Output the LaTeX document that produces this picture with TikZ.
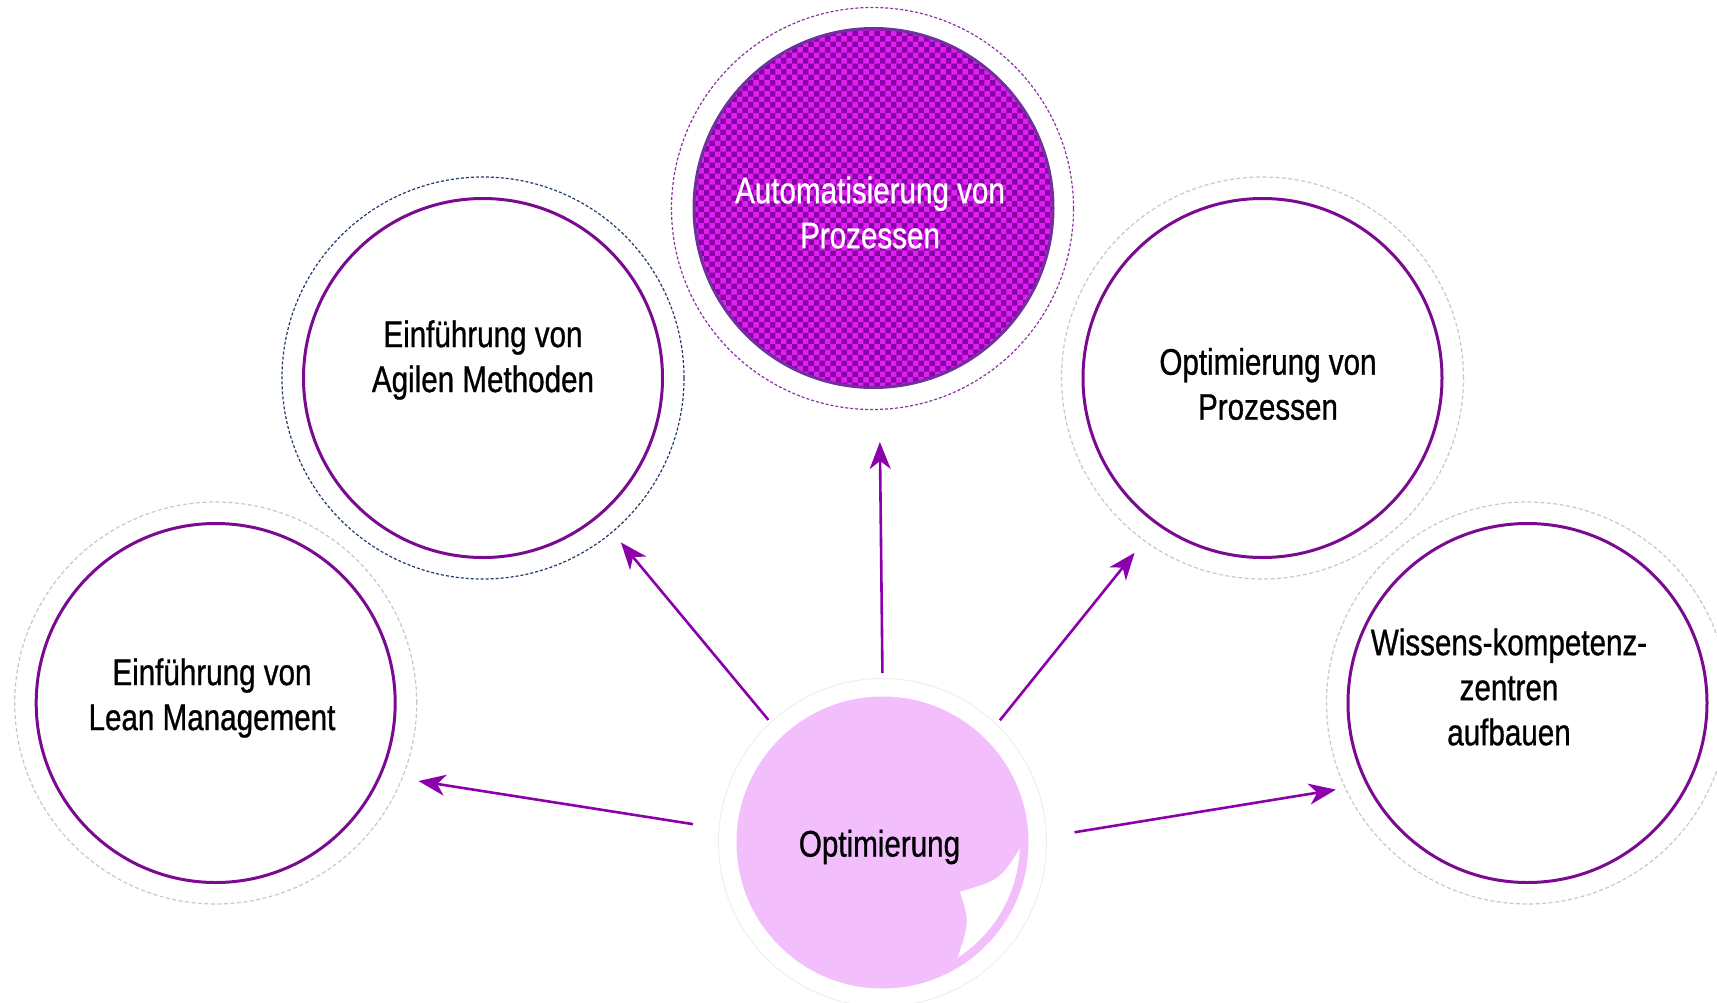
\documentclass[tikz,border=0pt]{standalone}
\usepackage{fontspec}
\setmainfont[FakeStretch=0.8,FakeBold=0.8]{Liberation Sans}
\usetikzlibrary{arrows.meta,patterns}
\definecolor{circ}{HTML}{7A0B90}
\definecolor{arr}{HTML}{8B00AB}
\definecolor{ringgray}{HTML}{C8C8C8}
\definecolor{ringnavy}{HTML}{1F3A6B}
\definecolor{ringpurple}{HTML}{9030A8}
\definecolor{pinkfill}{HTML}{F3BEFC}
\definecolor{autodark}{HTML}{8A00A8}
\definecolor{autolight}{HTML}{E020F0}
\definecolor{autoborder}{HTML}{7030A0}
\definecolor{faintring}{HTML}{EEEEEE}
\begin{document}
\begin{tikzpicture}[x=1pt,y=-1pt,
  mainc/.style={circle, draw=circ, line width=3pt, minimum size=359pt, inner sep=0pt},
  ringc/.style={circle, draw=ringgray, line width=1.2pt, minimum size=402pt, inner sep=0pt, dash pattern=on 4pt off 2.5pt},
  lbl/.style={font=\fontsize{37}{45}\selectfont, align=center, inner sep=0pt},
  conn/.style={draw=arr, line width=2.6pt, -{Stealth[length=27pt,width=21pt,inset=8pt]}}]
\useasboundingbox (0,0) rectangle (1717,1002);

% outer rings
\node[ringc] (leanR) at (215.7,703) {};
\node[ringc, draw=ringnavy, dash pattern=on 3pt off 2pt] (agileR) at (483,378) {};
\node[ringc, draw=ringpurple, dash pattern=on 3pt off 2pt] (autoR) at (872.5,208.5) {};
\node[ringc] (optR) at (1262.5,378) {};
\node[ringc] (wisR) at (1527.5,703) {};
\node[circle, draw=faintring, line width=1pt, minimum size=328pt, inner sep=0pt] (cR) at (882.5,842.5) {};

% main circles
\node[mainc] (lean) at (215.7,703) {};
\node[mainc] (agile) at (483,378) {};
\node[circle, minimum size=359pt, inner sep=0pt, draw=autoborder, line width=3pt,
      preaction={fill=autodark}, pattern=checkerboard, pattern color=autolight] (auto) at (873.5,208) {};
\node[mainc] (opt) at (1262.5,378) {};
\node[mainc] (wis) at (1527.5,703) {};
\node[circle, minimum size=292pt, inner sep=0pt, fill=pinkfill] (c) at (882.5,842.5) {};

% page curl
\begin{scope}
  \clip (882.5,842.5) circle (137.5);
  \fill[white] (1021,846.7) .. controls (1000,880) .. (960,891.7)
     .. controls (969.5,922.2) .. (957.5,958) -- (990,1010) -- (1060,1010) -- (1060,835) -- cycle;
\end{scope}

% connectors
\draw[conn, shorten <=26pt, shorten >=16pt] (cR.175.75) -- (leanR.-22.5);
\draw[conn, shorten <=3pt, shorten >=13pt] (cR.133.6) -- (agileR.-50.5);
\draw[conn, shorten <=5pt, shorten >=32pt] (cR.90) -- (autoR.-88);
\draw[conn, shorten <=5pt, shorten >=15pt] (cR.46.2) -- (optR.-126.8);
\draw[conn, shorten <=28pt, shorten >=9pt] (cR.2.4) -- (wisR.-155.8);

% labels
\node[lbl] (t1) at (212,698) {Einführung von\\Lean Management};
\node[lbl] (t2) at (483,360) {Einführung von\\Agilen Methoden};
\node[lbl, text=white] (t3) at (870,212.5) {Automatisierung von\\Prozessen};
\node[lbl] (t4) at (1268,384) {Optimierung von\\Prozessen};
\node[lbl] (t5) at (1509,687) {Wissens-kompetenz-\\zentren\\aufbauen};
\node[lbl] (t6) at (879.5,847) {Optimierung};
\end{tikzpicture}
\end{document}
